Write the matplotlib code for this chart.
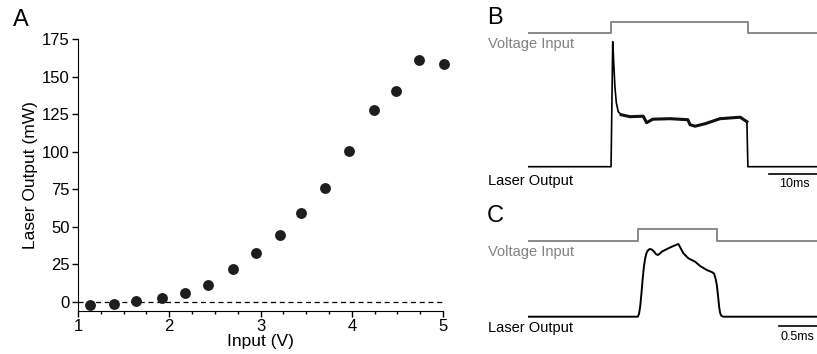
import numpy as np
import matplotlib
matplotlib.use('Agg')
import matplotlib.pyplot as plt

plt.rcParams['font.family'] = ['Liberation Sans', 'DejaVu Sans']

# Panel A: laser output vs input voltage
input_v = [1.13, 1.39, 1.64, 1.92, 2.17, 2.42, 2.70, 2.95, 3.21, 3.44, 3.71, 3.97, 4.24, 4.49, 4.74, 5.01]
laser_mw = [-1.8, -1.1, 0.4, 2.7, 6.0, 11.6, 21.7, 32.5, 44.5, 59.5, 75.9, 100.7, 127.8, 140.5, 160.7, 158.4]

# Panel B: 10 ms scale trace (time in ms, output in a.u.)
b_volt_t = [0, 17.3, 17.3, 45.8, 45.8, 60.2]
b_volt_v = [0, 0, 1, 1, 0, 0]
b_laser_t = [0, 17.3, 17.65, 17.9, 18.1, 18.4, 18.8, 19.4, 21.25, 24.0, 24.7, 26.0, 29.6, 33.3, 33.75,
             34.8, 36.9, 40.0, 44.2, 45.6, 45.8, 60.2]
b_laser_v = [0, 0, 125, 100, 80, 64, 55, 52, 50, 50.5, 44, 47.5, 48, 47, 42,
             40.5, 43, 48, 49.5, 45, 0, 0]

# Panel C: 0.5 ms scale trace
c_volt_t = [0, 1.45, 1.45, 2.49, 2.49, 3.80]
c_volt_v = [0, 0, 1, 1, 0, 0]
c_laser_t = [0, 1.445, 1.460, 1.475, 1.490, 1.507, 1.524, 1.540, 1.555, 1.570, 1.586, 1.605, 1.631,
             1.658, 1.684, 1.707, 1.731, 1.759, 1.846, 1.912, 1.978, 2.043, 2.109, 2.197, 2.263,
             2.351, 2.421, 2.447, 2.467, 2.483, 2.500, 2.513, 2.526, 2.539, 2.565, 3.803]
c_laser_v = [0, 0, 3, 10, 22, 37, 50, 58, 63, 65.5, 67, 67.7, 67,
             65, 62.5, 61.7, 63, 65, 68.4, 70.7, 72.7, 63.4, 58.4, 55, 50.7,
             46.7, 44.5, 43, 38, 31.7, 20, 10, 4, 1.2, 0, 0]

W, H = 817, 354
fig = plt.figure(figsize=(W / 100, H / 100), dpi=100)


def trace_axes(x0, x1, tmax, y_zero, px_per_unit, lo, hi):
    # place an axes so that value 0 sits at y_zero (pixels from top)
    top = y_zero - hi * px_per_unit
    bot = y_zero - lo * px_per_unit
    ax = fig.add_axes([x0 / W, 1 - bot / H, (x1 - x0) / W, (bot - top) / H])
    ax.set_xlim(0, tmax)
    ax.set_ylim(lo, hi)
    ax.axis('off')
    return ax


# ---- Panel A ----
axA = fig.add_axes([78 / W, 1 - 311 / H, 365 / W, 272 / H])
axA.axhline(0, color='black', lw=0.9, ls=(0, (4, 3)))
axA.plot(input_v, laser_mw, 'o', color='#1e1e1e', markersize=6.8, clip_on=False, zorder=3)
axA.set_xlim(1, 5)
axA.set_ylim(-6, 175)
axA.set_xticks([1, 2, 3, 4, 5])
axA.set_xticks(np.arange(1, 5.01, 0.25), minor=True)
axA.set_yticks(np.arange(0, 176, 25))
axA.spines['top'].set_visible(False)
axA.spines['right'].set_visible(False)
axA.tick_params(axis='both', which='major', labelsize=12, length=4, width=1, pad=2)
axA.tick_params(axis='x', which='minor', length=2.5, width=1)
axA.set_xlabel('Input (V)', fontsize=12.5, labelpad=0)
axA.set_ylabel('Laser Output (mW)', fontsize=12.5, labelpad=3)

fig.text(13 / W, 1 - 20 / H, 'A', fontsize=17, va='center', ha='left')

# ---- Panel B ----
vB = trace_axes(528, 817, 60.2, 33, 11, -0.2, 1.2)
vB.plot(b_volt_t, b_volt_v, color='#808080', lw=1.3)
lB = trace_axes(528, 817, 60.2, 166.7, 1.0, -30, 130)
lB.plot(b_laser_t, b_laser_v, color='black', lw=1.2)
plateau = slice(7, 20)
lB.plot(b_laser_t[plateau], b_laser_v[plateau], color='#111111', lw=2.2)
lB.plot([50.2, 60.2], [-7.3, -7.3], color='black', lw=1.2)

fig.text(487 / W, 1 - 18 / H, 'B', fontsize=17, va='center', ha='left')
fig.text(488 / W, 1 - 44 / H, 'Voltage Input', fontsize=10.5, color='#808080', va='center', ha='left')
fig.text(488 / W, 1 - 181 / H, 'Laser Output', fontsize=10.5, va='center', ha='left')
fig.text(794 / W, 1 - 184 / H, '10ms', fontsize=9, va='center', ha='center')

# ---- Panel C ----
vC = trace_axes(528, 817, 3.8, 241, 12, -0.2, 1.2)
vC.plot(c_volt_t, c_volt_v, color='#808080', lw=1.3)
lC = trace_axes(528, 817, 3.8, 316.7, 1.0, -30, 80)
lC.plot(c_laser_t, c_laser_v, color='black', lw=1.4)
lC.plot([3.3, 3.8], [-9.3, -9.3], color='black', lw=1.2)

fig.text(487 / W, 1 - 216 / H, 'C', fontsize=17, va='center', ha='left')
fig.text(488 / W, 1 - 252 / H, 'Voltage Input', fontsize=10.5, color='#808080', va='center', ha='left')
fig.text(488 / W, 1 - 328 / H, 'Laser Output', fontsize=10.5, va='center', ha='left')
fig.text(797 / W, 1 - 337 / H, '0.5ms', fontsize=9, va='center', ha='center')

fig.savefig('out.png', dpi=100)
